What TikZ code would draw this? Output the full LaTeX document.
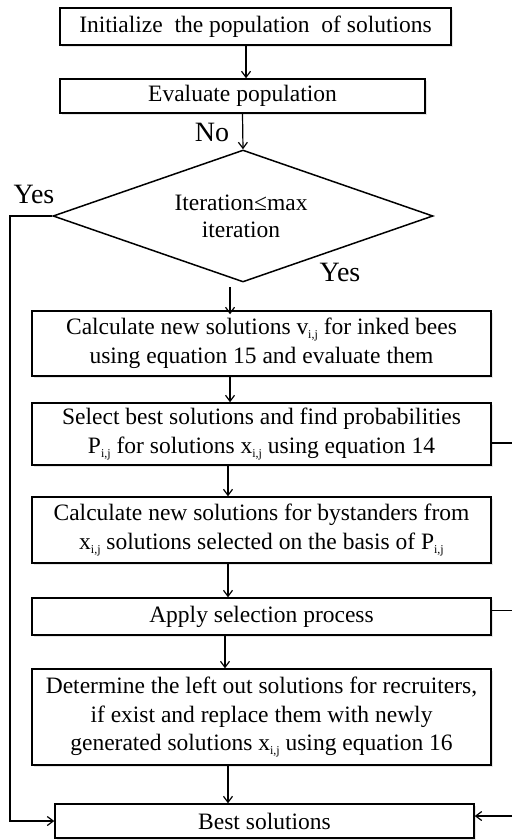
\documentclass[tikz,border=0pt]{standalone}
\usepackage{fontspec}
\setmainfont{Liberation Serif}
\usetikzlibrary{shapes.geometric,arrows.meta,shadows}
\newcommand{\idx}[1]{\raisebox{-4pt}{\fontsize{12}{12}\selectfont #1}}

\tikzset{every picture/.style={line width=1.2pt}}
\tikzset{
  procbox/.style={draw, rectangle, line width=1.5pt, fill=white, inner sep=1pt, align=center,
    font=\fontsize{23.5}{28.5}\selectfont,
    drop shadow={opacity=0.2, shadow xshift=2pt, shadow yshift=-2pt}},
  decision/.style={draw, diamond, line width=1.5pt, inner sep=0pt,
    minimum width=380pt, minimum height=132pt},
  dtext/.style={inner sep=0pt, align=center, font=\fontsize{23.5}{27}\selectfont},
  lbl/.style={inner sep=0pt, font=\fontsize{28}{28}\selectfont},
  arr/.style={-{Straight Barb[length=6pt,width=9pt]}}
}

\begin{document}
\begin{tikzpicture}[x=1pt,y=1pt,yscale=-1,xscale=1]
\useasboundingbox (0,0) rectangle (512,840);

% Process Boxes
\node [procbox, minimum width=391pt, minimum height=37pt] (init) at (255.5,26.5) {Initialize \ the population \ of solutions};
\node [procbox, minimum width=365pt, minimum height=34pt] (eval) at (242.5,96) {Evaluate population};
% Decision
\node [decision] (test) at (243,216) {};
\node [dtext] (testtxt) at (241,216.5) {Iteration≤max\\iteration};
\node [procbox, minimum width=459pt, minimum height=65pt] (calc) at (261.5,343.5) {Calculate new solutions v\idx{i,j} for inked bees\\using equation 15 and evaluate them};
\node [procbox, minimum width=459pt, minimum height=62pt] (select) at (261.5,434) {Select best solutions and find probabilities\\P\idx{i,j} for solutions x\idx{i,j} using equation 14};
\node [procbox, minimum width=459pt, minimum height=66pt] (bystand) at (261.5,530) {Calculate new solutions for bystanders from\\x\idx{i,j} solutions selected on the basis of P\idx{i,j}};
\node [procbox, minimum width=459pt, minimum height=37pt] (apply) at (261.5,616.5) {Apply selection process};
\node [procbox, minimum width=459pt, minimum height=96pt] (recruit) at (261.5,717) {Determine the left out solutions for recruiters,\\if exist and replace them with newly\\generated solutions x\idx{i,j} using equation 16};
\node [procbox, minimum width=419pt, minimum height=34pt] (best) at (264.5,821) {Best solutions};

% Text Node
\node [lbl] (no) at (212,132.5) {No};
% Text Node
\node [lbl] (yesl) at (34,194) {Yes};
% Text Node
\node [lbl] (yesb) at (340,272) {Yes};

% Free ends
\coordinate (lft) at (10,0);
\coordinate (rgt) at (512,0);

%Straight Lines
\draw [arr] ([xshift=-9.5pt]init.south) -- ([xshift=-9.5pt]init.south |- eval.north);
\draw [arr] (eval.south) -- (test.north);
\draw [arr] ([shift={(-13,4)}]test.south) -- ([shift={(-13,4)}]test.south |- calc.north);
\draw [arr] ([xshift=-31.5pt]calc.south) -- ([xshift=-31.5pt]calc.south |- select.north);
\draw [arr] ([xshift=-33.5pt]select.south) -- ([xshift=-33.5pt]select.south |- bystand.north);
\draw [arr] ([xshift=-33.5pt]bystand.south) -- ([xshift=-33.5pt]bystand.south |- apply.north);
\draw [arr] ([xshift=-36.5pt]apply.south) -- ([xshift=-36.5pt]apply.south |- recruit.north);
\draw [arr] ([xshift=-33.5pt]recruit.south) -- ([xshift=-33.5pt]recruit.south |- best.north);
%Feedback Lines
\draw [arr] (test.west) -- (test.west -| lft) |- (best.west);
\draw ([shift={(0,9)}]select.east) -- ([shift={(0,9)}]select.east -| rgt);
\draw ([shift={(0,-6)}]apply.east) -- ([shift={(0,-6)}]apply.east -| rgt);
\draw [arr] ([shift={(0,-5)}]best.east -| rgt) -- ([shift={(0,-5)}]best.east);
\end{tikzpicture}
\end{document}
